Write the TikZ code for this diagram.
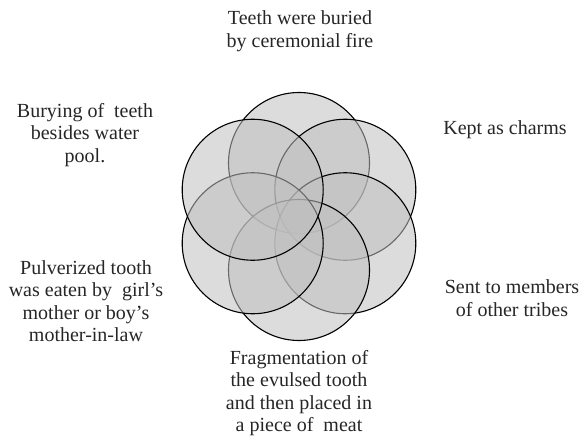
\documentclass[tikz,border=0pt]{standalone}
\usepackage{fontspec}
\setmainfont{Liberation Serif}
\begin{document}
\begin{tikzpicture}[x=1pt,y=-1pt,
  petal/.style={circle,inner sep=0pt,minimum size=141pt,draw=black,line width=1.1pt,fill=black!25,fill opacity=0.55},
  lbl/.style={align=center,font=\fontsize{20}{22.5}\selectfont,inner sep=0pt,text=black!85}]
\useasboundingbox (0,0) rectangle (588,441);
% petals, drawn clockwise from the top
\node[petal] (ptop) at (299,163) {};
\node[petal] (pur) at (345.3,189.75) {};
\node[petal] (plr) at (345.3,243.25) {};
\node[petal] (pbot) at (299,270) {};
\node[petal] (pll) at (252.7,243.25) {};
\node[petal] (pul) at (252.7,189.75) {};
% labels
\node[lbl] (ttop) at (300,31) {Teeth were buried\\by ceremonial fire};
\node[lbl] (tur) at (505,130) {Kept as charms};
\node[lbl] (tlr) at (512,298) {Sent to members\\of other tribes};
\node[lbl] (tbot) at (299,393) {Fragmentation of\\the evulsed tooth\\and then placed in\\a piece of\ \ meat};
\node[lbl] (tll) at (86,301) {Pulverized tooth\\was eaten by\ \ girl's\\mother or boy's\\mother-in-law};
\node[lbl] (tul) at (85,135) {Burying of\ \ teeth\\besides water\\pool.};
\end{tikzpicture}
\end{document}
